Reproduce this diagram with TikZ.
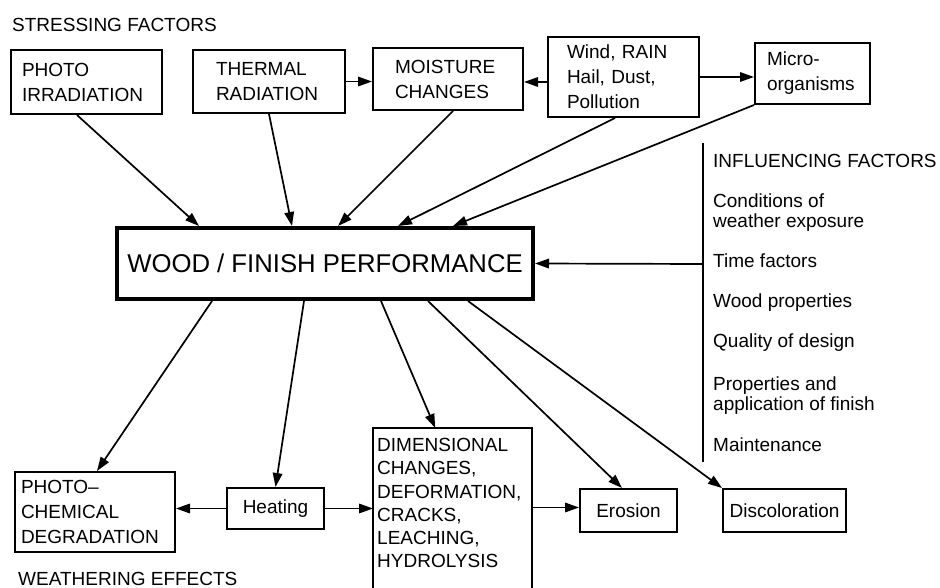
\documentclass[tikz,border=0pt]{standalone}
\usepackage{fontspec}
\setmainfont{Liberation Sans}
\usetikzlibrary{arrows.meta,calc}
\newcommand\myfs{\fontsize{19}{25}\selectfont}
\begin{document}
\begin{tikzpicture}[x=1pt,y=-1pt,
  box/.style={draw, line width=2pt, inner sep=0pt, font=\myfs, align=left},
  arr/.style={line width=1.7pt, -{Triangle[length=14pt,width=9.5pt]}},
  lbl/.style={anchor=base west, inner sep=0pt, font=\myfs, align=left},
  infl/.style={anchor=north west, inner sep=0pt, align=left, font=\fontsize{19}{19.5}\selectfont}]
\useasboundingbox (0,0) rectangle (940,588);
% titles
\node[lbl] (sf) at (12,32) {STRESSING FACTORS};
\node[lbl] (we) at (18,585) {WEATHERING EFFECTS};
% stressing boxes
\node[box, minimum width=151pt, minimum height=64pt, text width=129pt, inner xsep=11pt] (photo) at (86.5,82) {PHOTO\\IRRADIATION};
\node[box, minimum width=152pt, minimum height=63pt, text width=106pt, inner xsep=23pt] (thermal) at (269,81.5) {THERMAL\\RADIATION};
\node[box, minimum width=150pt, minimum height=62pt, text width=106pt, inner xsep=22pt] (moist) at (448,79) {MOISTURE\\CHANGES};
\node[box, minimum width=151pt, minimum height=80pt, text width=113pt, inner xsep=19pt] (wind) at (623.5,77) {Wind, RAIN\\Hail, Dust,\\Pollution};
\node[box, minimum width=115pt, minimum height=61pt, text width=91pt, inner xsep=12pt] (micro) at (812.5,73.5) {Micro-\\organisms};
% main
\node[draw, line width=4pt, minimum width=416pt, minimum height=71pt, inner sep=0pt, font=\fontsize{25.7}{30}\selectfont] (main) at (325,263.5) {WOOD / FINISH PERFORMANCE};
% effects
\node[box, minimum width=160pt, minimum height=80pt, text width=148pt, inner xsep=6pt] (pc) at (95,512) {PHOTO--\\CHEMICAL\\DEGRADATION};
\node[box, minimum width=97pt, minimum height=41pt] (heat) at (275.5,508.5) {Heating};
\node[anchor=north west, inner xsep=4pt, inner ysep=10pt, text width=151pt, align=left, font=\fontsize{19}{23.3}\selectfont] (dim) at (373,428) {DIMENSIONAL\\CHANGES,\\DEFORMATION,\\CRACKS,\\LEACHING,\\HYDROLYSIS};
\draw[line width=2pt] ([yshift=-20pt]dim.south west) -- (dim.north west) -- (dim.north east) -- ([yshift=-20pt]dim.south east);
\node[box, minimum width=97pt, minimum height=43pt] (eros) at (628.5,510.5) {Erosion};
\node[box, minimum width=123pt, minimum height=43pt] (disc) at (784.5,510.5) {Discoloration};
% influencing factors
\coordinate (it) at (703,143);
\coordinate (ib) at (703,462);
\draw[line width=2pt] (it) -- (ib);
\node[infl] (i0) at (713,154) {INFLUENCING FACTORS};
\node[infl] (i1) at (713,194) {Conditions of\\weather exposure};
\node[infl] (i2) at (713,254) {Time factors};
\node[infl] (i3) at (713,294) {Wood properties};
\node[infl] (i4) at (713,334) {Quality of design};
\node[infl] (i5) at (713,377) {Properties and\\application of finish};
\node[infl] (i6) at (713,438) {Maintenance};
\draw[arr] ($(it)!0.3793!(ib)$) -- (main.east);
% horizontal arrows
\draw[arr] (thermal.east) -- (thermal.east -| moist.west);
\draw[arr] ([yshift=-5pt]wind.west) -- ([yshift=-5pt]wind.west -| moist.east);
\draw[arr] (wind.east) -- (wind.east -| micro.west);
\draw[arr] (heat.west) -- (heat.west -| pc.east);
\draw[arr] (heat.east) -- (heat.east -| dim.west);
\draw[arr] ([yshift=3pt]eros.west -| dim.east) -- ([yshift=3pt]eros.west);
% into main
\draw[arr] ([xshift=-9.5pt]photo.south) -- ([xshift=-126pt]main.north);
\draw[arr] (thermal.south) -- ([xshift=-33pt]main.north);
\draw[arr] ([xshift=5pt]moist.south) -- ([xshift=13pt]main.north);
\draw[arr] ([xshift=-8.5pt]wind.south) -- ([xshift=73pt]main.north);
\draw[arr] (micro.south west) -- ([xshift=128pt]main.north);
% out of main
\draw[arr] ([xshift=-113pt]main.south) -- ([xshift=2pt]pc.north);
\draw[arr] ([xshift=-21pt]main.south) -- (heat.north);
\draw[arr] ([xshift=56pt]main.south) -- ([xshift=-17.5pt]dim.north);
\draw[arr] ([xshift=103pt]main.south) -- ([xshift=-6.5pt]eros.north);
\draw[arr] ([xshift=143pt]main.south) -- (disc.north west);
\end{tikzpicture}
\end{document}
